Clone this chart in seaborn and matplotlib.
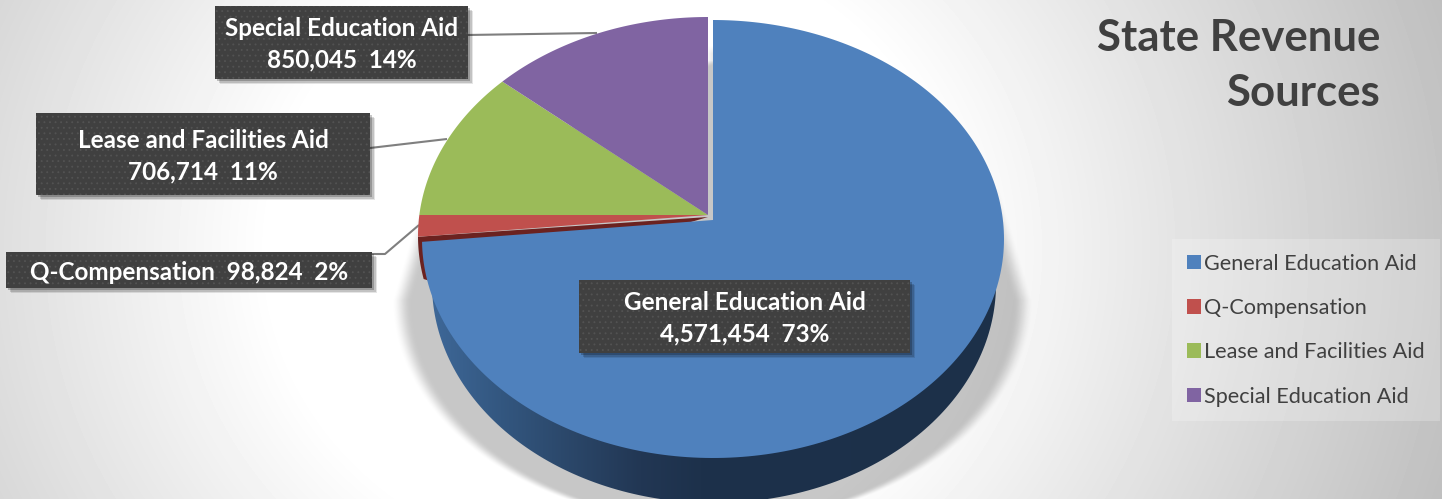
import numpy as np
import matplotlib
matplotlib.use("Agg")
import matplotlib.pyplot as plt
from matplotlib.patches import Polygon, Rectangle
import seaborn as sns

categories = ["General Education Aid", "Q-Compensation",
              "Lease and Facilities Aid", "Special Education Aid"]
revenue = [4571454, 98824, 706714, 850045]
slice_colors = ["#4F81BD", "#C0504D", "#9BBB59", "#8064A2"]
title_lines = "State Revenue\nSources"

W, H = 1442, 499
sns.set_theme(style="white")
plt.rcParams["font.family"] = ["Lato", "DejaVu Sans"]
plt.rcParams["hatch.linewidth"] = 0.6

fig = plt.figure(figsize=(W / 100, H / 100), dpi=100)
ax = fig.add_axes([0, 0, 1, 1])

# Slice angles come from the pie itself; the tilted faces are projected from them.
wedges, _ = ax.pie(revenue, startangle=90, counterclock=False, colors=slice_colors)
for w in wedges:
    w.set_visible(False)

# Page background: soft radial vignette
yy, xx = np.mgrid[0:H, 0:W]
r = np.hypot(xx - 610, (yy - 250) * 1.1)
bg = 255 - 55 * np.clip((r - 340) / 460, 0, 1.3)
ax.imshow(bg, cmap="gray", vmin=0, vmax=255, extent=(0, W, H, 0), aspect="auto", zorder=0)

# Drop shadow beneath the disc: hugging the rim above, flaring out lower down
half_w = np.where(
    yy < 300,
    np.interp(yy, [60, 190, 300], [0, 280, 312]),
    312 * np.sqrt(np.clip(1 - ((yy - 300) / 222.0) ** 2, 0, 1)),
)
t = np.clip((half_w - np.abs(xx - 712) + 9) / 20, 0, 1)
t = t * t * (3 - 2 * t) * np.clip((yy - 45) / 8, 0, 1)
shadow = np.zeros((H, W, 4))
shadow[..., 3] = 0.22 * t
ax.imshow(shadow, extent=(0, W, H, 0), aspect="auto", zorder=1)

# Leader lines sit beneath the disc
leader = dict(color="#7F7F7F", lw=1.5, zorder=2, solid_capstyle="butt")
ax.plot([467, 597], [35, 33], **leader)
ax.plot([370, 447], [148, 139], **leader)
ax.plot([372, 385, 419], [254, 254, 225], **leader)


def rim(theta_deg, apex, centre, a, b, squash=0.75):
    """Where rays leaving the apex at the given pie angles meet an ellipse."""
    th = np.radians(theta_deg)
    dx, dy = np.cos(th), -np.sin(th) * squash
    ux, uy = dx / a, dy / b
    vx, vy = (apex[0] - centre[0]) / a, (apex[1] - centre[1]) / b
    uu = ux ** 2 + uy ** 2
    uv = ux * vx + uy * vy
    vv = vx ** 2 + vy ** 2
    s = (-uv + np.sqrt(uv ** 2 - uu * (vv - 1))) / uu
    return np.column_stack([apex[0] + s * dx, apex[1] + s * dy])


main = dict(apex=(713, 220), centre=(713, 239), a=291, b=219)
rest = dict(apex=(708, 215), centre=(708, 236), a=290, b=219)


def arc(w, geom):
    return rim(np.linspace(w.theta1, w.theta2, 240), **geom)


# Wall of the raised main slice, shaded from left to right
wall = arc(wedges[0], dict(apex=(714, 265), centre=(714, 284), a=282, b=219))
wall_patch = Polygon(np.vstack([[714, 265], wall]), closed=True, fc="none", ec="none", zorder=3)
ax.add_patch(wall_patch)
stops_x = [425, 500, 560, 640, 700, 1000]
stops_r = [0x3F, 0x33, 0x2C, 0x22, 0x1D, 0x1C]
stops_g = [0x69, 0x57, 0x49, 0x37, 0x31, 0x30]
stops_b = [0x9A, 0x80, 0x6C, 0x54, 0x4B, 0x49]
ramp = np.dstack([np.interp(xx[0], stops_x, c) for c in (stops_r, stops_g, stops_b)]) / 255
wall_img = ax.imshow(ramp, extent=(0, W, H, 0), aspect="auto", zorder=3)
wall_img.set_clip_path(wall_patch)

# Thin dark edge of the small slice where the main slice has pulled away
red_lip = rim(np.linspace(wedges[1].theta2, wedges[1].theta2 + 11, 30), **rest)
ax.add_patch(Polygon(np.vstack([[708, 217], red_lip, [460, 290]]), closed=True,
                     fc="#6B2220", ec="none", zorder=3.5))

# Top faces
faces = []
for i, w in enumerate(wedges):
    geom = main if i == 0 else rest
    face = Polygon(np.vstack([geom["apex"], arc(w, geom)]), closed=True,
                   fc=slice_colors[i], ec="none", zorder=5 if i == 0 else 4)
    ax.add_patch(face)
    faces.append(face)

# Value callouts
total = sum(revenue)


def callout(i, x0, x1, y0, y1, one_line=False):
    for k, alpha in zip((6, 4.5, 3), (0.10, 0.15, 0.22)):
        ax.add_patch(Rectangle((x0 + k - 1, y0 + k - 1), x1 - x0, y1 - y0, fc="black",
                               ec="none", alpha=alpha, zorder=6))
    ax.add_patch(Rectangle((x0, y0), x1 - x0, y1 - y0, fc="#404040", ec="#535353",
                           hatch="...", lw=0, zorder=7))
    stat = f"{revenue[i]:,}  {round(100 * revenue[i] / total)}%"
    sep = "  " if one_line else "\n"
    ax.text((x0 + x1) / 2, (y0 + y1) / 2 + 2, categories[i] + sep + stat, color="white",
            fontsize=17.5, fontweight="bold", ha="center", va="center",
            linespacing=1.44, zorder=8)


callout(3, 215, 468, 6, 79)
callout(2, 36, 370, 113, 195)
callout(1, 6, 372, 252, 288, one_line=True)
callout(0, 579, 910, 280, 353)

# Title
ax.text(1380, 65.5, title_lines, color="#404040", fontsize=31.5, fontweight="bold",
        ha="right", va="center", linespacing=1.48, zorder=8)

# Legend
ax.legend(
    handles=faces, labels=categories, loc="upper left",
    bbox_to_anchor=(1172 / W, 1 - 239 / H), borderaxespad=0,
    fontsize=15.6, labelcolor="#404040", frameon=True, fancybox=False,
    facecolor="white", framealpha=0.22, edgecolor="none",
    handlelength=0.66, handleheight=0.66, handletextpad=0.15,
    labelspacing=1.12, borderpad=0.68,
).set_zorder(8)

ax.set_aspect("auto")
ax.set_xlim(0, W)
ax.set_ylim(H, 0)
ax.axis("off")
fig.savefig("out.png", dpi=100)
